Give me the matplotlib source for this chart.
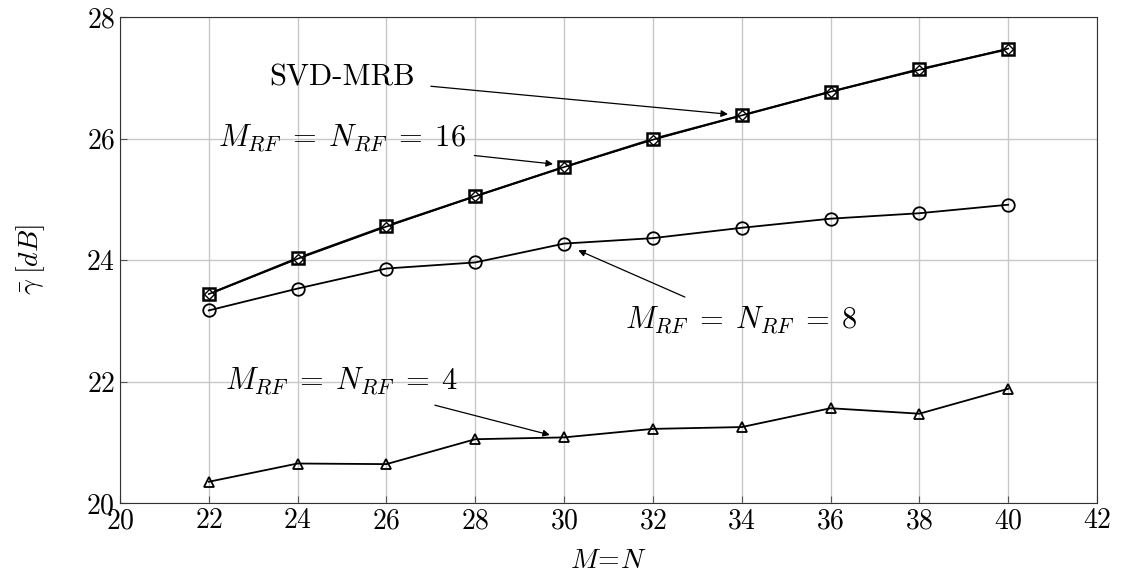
import matplotlib
matplotlib.use("Agg")
import matplotlib.pyplot as plt

plt.rcParams['font.family'] = 'serif'
plt.rcParams['font.serif'] = ['cmr10']
plt.rcParams['mathtext.fontset'] = 'cm'
plt.rcParams['axes.formatter.use_mathtext'] = True

# data
MN = [22, 24, 26, 28, 30, 32, 34, 36, 38, 40]
svd_mrb = [23.44, 24.03, 24.56, 25.05, 25.53, 25.99, 26.38, 26.77, 27.14, 27.47]
rf16 = [23.44, 24.02, 24.55, 25.05, 25.53, 25.98, 26.38, 26.77, 27.13, 27.48]
rf8 = [23.17, 23.53, 23.86, 23.96, 24.27, 24.36, 24.53, 24.68, 24.77, 24.91]
rf4 = [20.35, 20.65, 20.64, 21.05, 21.08, 21.22, 21.25, 21.56, 21.47, 21.88]

xticks = list(range(20, 43, 2))
yticks = [20, 22, 24, 26, 28]

fig = plt.figure(figsize=(11.22, 5.82), dpi=100)
ax = fig.add_axes([120/1122, 1-503/582, (1097-120)/1122, (503-17)/582])

ax.plot(MN, svd_mrb, color='black', lw=1.6, marker='s', ms=8, mfc='white', mew=1.8)
ax.plot(MN, rf16, color='black', lw=1.2, marker='D', ms=5, mfc='none', mew=1.0)
ax.plot(MN, rf8, color='black', lw=1.3, marker='o', ms=9, mfc='none', mew=1.3)
ax.plot(MN, rf4, color='black', lw=1.3, marker='^', ms=7, mfc='none', mew=1.3)

ax.set_xlim(20, 42)
ax.set_ylim(20, 28)
ax.set_xticks(xticks)
ax.set_yticks(yticks)
ax.tick_params(direction='in', labelsize=20, length=5, color='#555555')
ax.grid(True, color='#c8c8c8', lw=1.0)
ax.set_axisbelow(True)
for s in ax.spines.values():
    s.set_color('#333333')

ax.set_xlabel(r'$M\!=\!N$', fontsize=20, labelpad=10)
ax.set_ylabel(r'$\bar{\gamma}\;[dB]$', fontsize=20, labelpad=28)

arw = dict(arrowstyle='-|>', color='black', lw=0.9, mutation_scale=10, shrinkA=0, shrinkB=0)
fs = 22
sp = r'\;'

# labels
ax.text(25.0, 27.0, 'SVD-MRB', fontsize=fs, ha='center', va='center')
ax.text(25.0, 26.0, r'$M_{RF}' + sp + '=' + sp + 'N_{RF}' + sp + '=' + sp + '16$',
        fontsize=fs, ha='center', va='center')
ax.text(34.0, 23.0, r'$M_{RF}' + sp + '=' + sp + 'N_{RF}' + sp + '=' + sp + '8$',
        fontsize=fs, ha='center', va='center')
ax.text(25.0, 22.0, r'$M_{RF}' + sp + '=' + sp + 'N_{RF}' + sp + '=' + sp + '4$',
        fontsize=fs, ha='center', va='center')

# arrows
ax.annotate('', xy=(33.69, 26.40), xytext=(27.0, 26.86), arrowprops=arw)
ax.annotate('', xy=(29.75, 25.58), xytext=(27.98, 25.72), arrowprops=arw)
ax.annotate('', xy=(30.32, 24.16), xytext=(32.72, 23.39), arrowprops=arw)
ax.annotate('', xy=(29.68, 21.12), xytext=(27.09, 21.61), arrowprops=arw)

fig.savefig('out.png', dpi=100)
